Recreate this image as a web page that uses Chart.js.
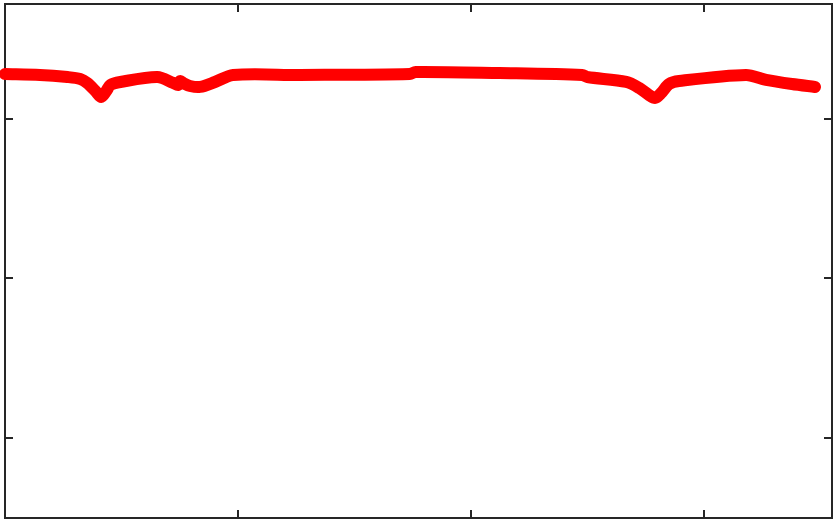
<!DOCTYPE html>
<html>
<head>
<meta charset="utf-8">
<script src="https://cdn.jsdelivr.net/npm/chart.js@4"></script>
<style>
  html, body { margin: 0; padding: 0; background: #ffffff; }
  #wrap { width: 840px; height: 525px; }
</style>
</head>
<body>
<div id="wrap"><canvas id="lineChart"></canvas></div>
<script>
// Curve samples
const xValues = [0, 0.15, 0.268, 0.323, 0.353, 0.388, 0.413, 0.435, 0.452, 0.495,
  0.654, 0.722, 0.743, 0.752, 0.764, 0.794, 0.837, 0.901, 0.979, 1.266,
  1.737, 1.762, 2.122, 2.477, 2.499, 2.666, 2.722, 2.764, 2.790, 2.816,
  2.850, 2.893, 3.180, 3.266, 3.377, 3.476];
const yValues = [2.282, 2.276, 2.263, 2.251, 2.226, 2.176, 2.138, 2.176, 2.213, 2.232,
  2.263, 2.226, 2.213, 2.238, 2.226, 2.207, 2.201, 2.232, 2.276, 2.276,
  2.282, 2.295, 2.288, 2.276, 2.263, 2.232, 2.194, 2.150, 2.132, 2.163,
  2.219, 2.238, 2.276, 2.245, 2.219, 2.201];
const xTicks = [1, 2, 3];
const yTicks = [0, 1, 2];

// Box frame with inward ticks on all four sides (drawn under the line)
const boxFrame = {
    id: 'boxFrame',
    beforeDatasetsDraw(chart) {
        const ctx = chart.ctx;
        const a = chart.chartArea;
        const xs = chart.scales.x, ys = chart.scales.y;
        const tick = 8;
        ctx.save();
        ctx.strokeStyle = '#262626';
        ctx.lineWidth = 2;
        ctx.strokeRect(a.left, a.top, a.right - a.left, a.bottom - a.top);
        ctx.beginPath();
        xTicks.forEach(v => {
            const px = Math.round(xs.getPixelForValue(v));
            ctx.moveTo(px, a.bottom); ctx.lineTo(px, a.bottom - tick);
            ctx.moveTo(px, a.top); ctx.lineTo(px, a.top + tick);
        });
        yTicks.forEach(v => {
            const py = Math.round(ys.getPixelForValue(v));
            ctx.moveTo(a.left, py); ctx.lineTo(a.left + tick, py);
            ctx.moveTo(a.right, py); ctx.lineTo(a.right - tick, py);
        });
        ctx.stroke();
        ctx.restore();
    }
};

new Chart(document.getElementById('lineChart'), {
    type: 'line',
    data: {
        datasets: [{
            data: xValues.map((x, i) => ({ x: x, y: yValues[i] })),
            borderColor: '#ff0000',
            borderWidth: 12,
            borderCapStyle: 'round',
            borderJoinStyle: 'round',
            pointRadius: 0,
            tension: 0.3,
            fill: false,
            clip: false
        }]
    },
    options: {
        responsive: true,
        maintainAspectRatio: false,
        animation: false,
        layout: { padding: { left: 5, top: 4, right: 8, bottom: 7 } },
        plugins: {
            legend: { display: false },
            tooltip: { enabled: false }
        },
        scales: {
            x: { type: 'linear', min: 0, max: 3.549, display: false },
            y: { type: 'linear', min: -0.502, max: 2.721, display: false }
        }
    },
    plugins: [boxFrame]
});
</script>
</body>
</html>
